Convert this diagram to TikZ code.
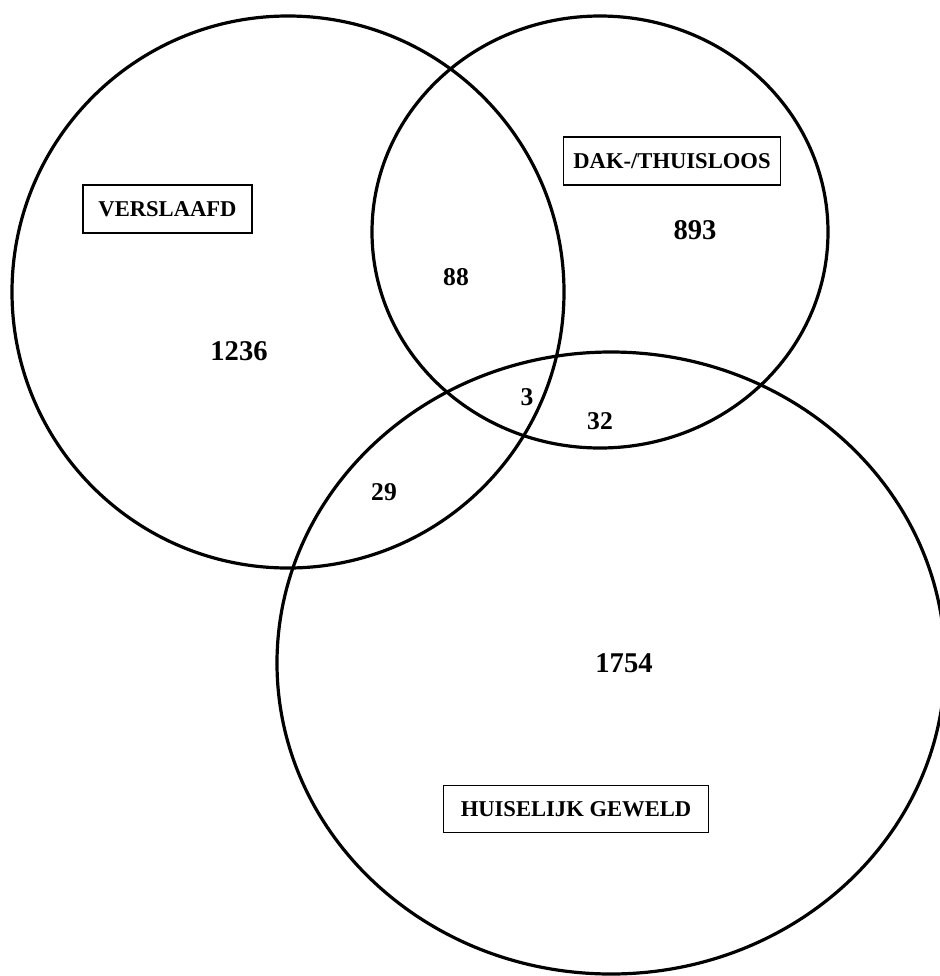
\documentclass[tikz,border=0pt]{standalone}
\usepackage{fontspec}
\setmainfont{Liberation Serif}
\usetikzlibrary{shapes.geometric}

\tikzset{%
  set/.style={draw, ellipse, line width=1.6pt, inner sep=0pt},
  setlabel/.style={draw, line width=0.7pt, inner sep=0pt,
    font=\fontsize{11.3}{13}\selectfont\bfseries},
  count/.style={font=\fontsize{14.3}{16}\selectfont\bfseries},
  smallcount/.style={font=\fontsize{12.8}{14}\selectfont\bfseries}
}

\begin{document}
\begin{tikzpicture}[x=0.5pt,y=-0.5pt]
  \useasboundingbox (0,0) rectangle (940,976);
  % the three sets
  \node[set, minimum width=276pt, minimum height=276pt] (verslaafd) at (288,292) {};
  \node[set, minimum width=228pt, minimum height=216pt] (dakloos) at (600,232) {};
  \node[set, minimum width=334pt, minimum height=311pt] (geweld) at (611,663) {};
  % labels
  \node[setlabel, minimum width=84.5pt, minimum height=24pt] (lverslaafd) at (167.5,209) {VERSLAAFD};
  \node[setlabel, minimum width=108.5pt, minimum height=24pt] (ldakloos) at (672,161) {DAK-/THUISLOOS};
  \node[setlabel, minimum width=132.5pt, minimum height=23.5pt] (lgeweld) at (576,809) {HUISELIJK GEWELD};
  % counts
  \node[count] (nv) at (239,351) {1236};
  \node[count] (nd) at (695,230) {893};
  \node[count] (ng) at (624,663) {1754};
  \node[smallcount] (nvd) at (456,277) {88};
  \node[smallcount] (nvdg) at (527,397) {3};
  \node[smallcount] (ndg) at (600,421) {32};
  \node[smallcount] (nvg) at (384,492) {29};
\end{tikzpicture}
\end{document}
